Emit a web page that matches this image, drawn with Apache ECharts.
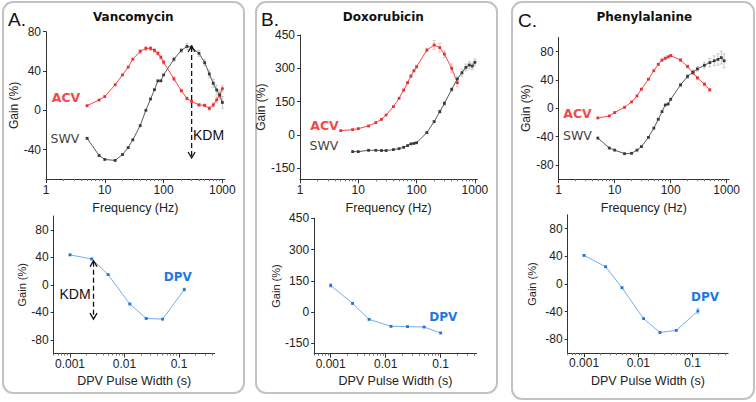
<!DOCTYPE html>
<html><head><meta charset="utf-8">
<script src="https://cdn.jsdelivr.net/npm/echarts@6/dist/echarts.min.js"></script>
<style>html,body{margin:0;padding:0;background:#fff}#c{width:756px;height:402px}</style>
</head><body><div id="c"></div>
<script>
// ---------- data ----------
const freq = [5,8,10,15,20,25,30,40,50,60,70,80,90,100,150,200,250,300,400,500,600,700,800,900,1000];
const freqTo500 = [5,8,10,15,20,25,30,40,50,60,70,80,90,100,150,200,250,300,400,500];
const freqFrom8 = [8,10,15,20,25,30,40,50,60,70,80,90,100,150,200,250,300,400,500,600,700,800,900,1000];
const freqTo900 = [5,8,10,15,20,25,30,40,50,60,70,80,90,100,150,200,250,300,400,500,600,700,800,900];

const vancoACV = [4.7,10.5,14,26,36,44,52,60,63,63,61,58,54,49,32,20,12,9,5.5,5,2,5.5,10.5,15.6,22];
const vancoACVErr = [0,0,0,0,0,0,0,2,2,2,2,2,2,2,2,1.5,1.5,1.5,1.5,1.5,1.5,2,3,3,3];
const vancoSWV = [-28.5,-46,-50,-51,-45,-38,-30,-15.6,0,11.5,21,30,30,36,52,61,65,64,58,48.5,37,27.5,20.7,15.6,8];
const vancoSWVErr = [0,0,0,0,0,0,0,0,0,0,0,0,0,0,2,2,3,2,3,3,4,4,5,5,6];

const doxACV = [19.5,24,28.5,40.5,55.5,70.5,90,127.5,165,202,235,265,289,307,382,405,393,364,300,235];
const doxACVErr = [0,0,0,0,0,0,0,0,0,4,4,5,5,6,8,20,20,15,20,18];
const doxSWV = [-75,-75,-69,-69,-70,-70,-66,-61.5,-55.5,-48,-40,-38,-35,10.5,60,105,142,205,252,280,304,315,310,327];
const doxSWVErr = [0,0,0,0,0,0,0,0,0,0,0,0,0,4,5,6,8,8,12,15,15,15,15,15];

const phenACV = [-13.6,-10.8,-6,1.4,9,17.4,27,41,53,62,68,70.6,72.5,74.4,68,59,50,43,34,26];
const phenACVErr = [0,0,0,0,0,0,0,0,0,1.5,1.5,1.5,1.5,1.5,2,2,2,2,2,2];
const phenSWV = [-42,-56,-59,-64,-63.5,-59,-54,-41,-28,-15.5,-4.7,4.7,6,12.7,33,45,51,55.5,60.7,64.5,67,69,71.5,67];
const phenSWVErr = [0,0,0,0,0,0,0,0,0,0,0,0,0,0,2,3,3,3,4,6,7,8,9,10];

const pulseA = [0.001,0.0025,0.005,0.0125,0.025,0.05,0.125];
const pulseB = [0.001,0.0025,0.005,0.0125,0.025,0.05,0.1];
const pulseC = [0.001,0.0025,0.005,0.0125,0.025,0.05,0.125];
const vancoDPV = [43.5,37.5,14.8,-28,-49,-50,-7];
const vancoDPVErr = [1,1,1,1,1,1,2];
const doxDPV = [127.6,41.5,-35,-68.6,-70,-72,-100.5];
const doxDPVErr = [8,3,3,3,3,3,3];
const phenDPV = [41.4,25,-5.3,-50,-70,-67,-39];
const phenDPVErr = [1,1,1,1,1,1,4];

const freqTicks = [1,10,100,1000];
const freqMinor = [2,3,4,5,6,7,8,9,20,30,40,50,60,70,80,90,200,300,400,500,600,700,800,900];
const pulseTicks = [0.001,0.01,0.1];
const pulseMinor = [0.0005,0.0006,0.0007,0.0008,0.0009,0.002,0.003,0.004,0.005,0.006,0.007,0.008,0.009,0.02,0.03,0.04,0.05,0.06,0.07,0.08,0.09,0.2,0.3,0.4];
const gainTicksSmall = [-80,-40,0,40,80];
const gainTicksA = [-40,0,40,80];
const gainTicksBig = [-150,0,150,300,450];

// ---------- style ----------
const FONT = '"Liberation Sans", Arial, sans-serif';
const VFONT = '"DejaVu Sans", Verdana, sans-serif';
const RED = '#f44848', RED_M = '#e83030', RED_E = '#f7b8b8';
const GRAY = '#5a5a5a', GRAY_M = '#3a3a3a', GRAY_E = '#c8c8c8';
const BLUE = '#74aef0', BLUE_M = '#2474d8', BLUE_E = '#a8c9f2';
const AX = '#333';

const grids = [
  {left:46, top:31.7, width:178.8, height:147.4},
  {left:53.6, top:216, width:161, height:137.5},
  {left:300, top:35, width:177.3, height:144.4},
  {left:314.1, top:218.3, width:162.5, height:135.4},
  {left:558.7, top:37.4, width:170.3, height:141.8},
  {left:567.7, top:214.9, width:160.4, height:138.3}
];
const isTop = [true,false,true,false,true,false];
const yRanges = [[-70,80],[-100,100],[-200,450],[-200,450],[-100,100],[-100,100]];
const yTicks = [gainTicksA,gainTicksSmall,gainTicksBig,gainTicksBig,gainTicksSmall,gainTicksSmall];
const yNameGap = [25,24,23,30,24,30];

const xAxes = [], yAxes = [];
grids.forEach((g,i) => {
  const top = isTop[i];
  xAxes.push({
    type:'log', gridIndex:i, logBase:10, position:'bottom',
    min: top ? 1 : 0.0005, max: top ? 1100 : 0.45,
    name: top ? 'Frequency (Hz)' : 'DPV Pulse Width (s)',
    nameLocation:'middle', nameGap: top ? 22 : 21,
    nameTextStyle:{fontFamily:FONT, fontSize:12.5, color:'#222'},
    axisLine:{show:true, onZero:false, lineStyle:{color:AX, width:1}},
    axisTick:{show:true, length:4, customValues: top ? freqTicks : pulseTicks, lineStyle:{color:AX}},
    axisLabel:{show:true, margin: top ? 5 : 4, fontFamily:FONT, fontSize:12, color:'#222',
      customValues: top ? freqTicks : pulseTicks, formatter: v => String(v)},
    splitLine:{show:false}, minorTick:{show:false}
  });
  yAxes.push({
    type:'value', gridIndex:i, min:yRanges[i][0], max:yRanges[i][1], position:'left',
    name:'Gain (%)', nameLocation:'middle', nameGap:yNameGap[i],
    nameTextStyle:{fontFamily:FONT, fontSize: top ? 12 : 11, color:'#222'},
    axisLine:{show:true, onZero:false, lineStyle:{color:AX, width:1}},
    axisTick:{show:true, length:3, customValues:yTicks[i], lineStyle:{color:AX}},
    axisLabel:{show:true, margin:5, fontFamily:FONT, fontSize:12, color:'#222', customValues:yTicks[i]},
    splitLine:{show:false}
  });
});
// minor tick axes (same scale, only small ticks)
grids.forEach((g,i) => {
  const top = isTop[i];
  xAxes.push({
    type:'log', gridIndex:i, logBase:10, position:'bottom',
    min: top ? 1 : 0.0005, max: top ? 1100 : 0.45,
    axisLine:{show:false, onZero:false}, axisLabel:{show:false}, splitLine:{show:false},
    axisTick:{show:true, length:2, customValues: top ? freqMinor : pulseMinor, lineStyle:{color:'#777'}}
  });
});

function pairs(xs, ys){ return xs.map((x,k)=>[x, ys[k]]); }
function lineSeries(idx, xs, ys, color, mcolor){
  return {type:'line', xAxisIndex:idx, yAxisIndex:idx, data:pairs(xs,ys),
    symbol:'rect', symbolSize:2.8, showSymbol:true,
    lineStyle:{color:color, width:1}, itemStyle:{color:mcolor}, z:5, animation:false};
}
function errSeries(idx, xs, ys, es, color){
  const data = [];
  xs.forEach((x,k)=>{ if (es[k] > 0) data.push([x, ys[k]-es[k], ys[k]+es[k]]); });
  return {type:'custom', xAxisIndex:idx, yAxisIndex:idx, data:data, z:3, animation:false,
    renderItem:(params, api)=>{
      const x = api.value(0);
      const a = api.coord([x, api.value(1)]), b = api.coord([x, api.value(2)]);
      const st = {stroke:color, lineWidth:1};
      return {type:'group', children:[
        {type:'line', shape:{x1:a[0],y1:a[1],x2:b[0],y2:b[1]}, style:st},
        {type:'line', shape:{x1:a[0]-1.5,y1:a[1],x2:a[0]+1.5,y2:a[1]}, style:st},
        {type:'line', shape:{x1:b[0]-1.5,y1:b[1],x2:b[0]+1.5,y2:b[1]}, style:st}
      ]};
    }};
}

const series = [
  lineSeries(0, freq, vancoACV, RED, RED_M),
  lineSeries(0, freq, vancoSWV, GRAY, GRAY_M),
  lineSeries(1, pulseA, vancoDPV, BLUE, BLUE_M),
  lineSeries(2, freqTo500, doxACV, RED, RED_M),
  lineSeries(2, freqFrom8, doxSWV, GRAY, GRAY_M),
  lineSeries(3, pulseB, doxDPV, BLUE, BLUE_M),
  lineSeries(4, freqTo500, phenACV, RED, RED_M),
  lineSeries(4, freqTo900, phenSWV, GRAY, GRAY_M),
  lineSeries(5, pulseC, phenDPV, BLUE, BLUE_M),
  errSeries(0, freq, vancoACV, vancoACVErr, RED_E),
  errSeries(0, freq, vancoSWV, vancoSWVErr, GRAY_E),
  errSeries(1, pulseA, vancoDPV, vancoDPVErr, BLUE_E),
  errSeries(2, freqTo500, doxACV, doxACVErr, RED_E),
  errSeries(2, freqFrom8, doxSWV, doxSWVErr, GRAY_E),
  errSeries(3, pulseB, doxDPV, doxDPVErr, BLUE_E),
  errSeries(4, freqTo500, phenACV, phenACVErr, RED_E),
  errSeries(4, freqTo900, phenSWV, phenSWVErr, GRAY_E),
  errSeries(5, pulseC, phenDPV, phenDPVErr, BLUE_E)
];

const chart = echarts.init(document.getElementById('c'), null, {renderer:'svg', width:756, height:402});
chart.setOption({
  backgroundColor:'#fff', animation:false,
  grid: grids.map(g=>Object.assign({containLabel:false}, g)),
  xAxis: xAxes, yAxis: yAxes, series: series
});

// ---------- annotations ----------
const gfx = [];
function box(x,y,w,h){ gfx.push({type:'rect', z:-10, shape:{x:x,y:y,width:w,height:h,r:10}, style:{fill:'none', stroke:'#c2c2c2', lineWidth:2}}); }
box(3,2,241,391); box(256,2,241,391); box(512,2,242,397);
function txt(s,x,y,font,color,align){ gfx.push({type:'text', x:x, y:y, z:20, style:{text:s, font:font, fill:color, textAlign:align||'center', textVerticalAlign:'middle'}}); }
txt('A.', 8, 19, '19px '+FONT, '#111', 'left');
txt('B.', 261, 19, '19px '+FONT, '#111', 'left');
txt('C.', 518, 20, '19px '+FONT, '#111', 'left');
txt('Vancomycin', 133.3, 17, 'bold 12px '+VFONT, '#111');
txt('Doxorubicin', 383.3, 17, 'bold 12px '+VFONT, '#111');
txt('Phenylalanine', 644.3, 17, 'bold 12px '+VFONT, '#111');
txt('ACV', 66, 97, 'bold 12.5px '+VFONT, RED);
txt('SWV', 65, 138, '12.5px '+VFONT, '#444');
txt('ACV', 324.5, 125.7, 'bold 12.5px '+VFONT, RED);
txt('SWV', 324, 145.7, '12.5px '+VFONT, '#444');
txt('ACV', 577.5, 113.3, 'bold 12.5px '+VFONT, RED);
txt('SWV', 577.5, 135, '12.5px '+VFONT, '#444');
txt('DPV', 177.7, 277.3, 'bold 12px '+VFONT, '#1f78e0');
txt('DPV', 443.3, 317.3, 'bold 12px '+VFONT, '#1f78e0');
txt('DPV', 705, 297.3, 'bold 12px '+VFONT, '#1f78e0');
txt('KDM', 208.5, 135, '14px '+FONT, '#111');
txt('KDM', 75, 294.3, '14px '+FONT, '#111');

function arrow(seriesIndex, xv, y1, y2){
  const p = chart.convertToPixel({seriesIndex:seriesIndex}, [xv, y1]);
  const q = chart.convertToPixel({seriesIndex:seriesIndex}, [xv, y2]);
  const st = {stroke:'#111', lineWidth:1.3, fill:'none'};
  gfx.push({type:'line', z:20, shape:{x1:p[0],y1:p[1]+1,x2:q[0],y2:q[1]-1}, style:Object.assign({lineDash:[5,3]}, st)});
  gfx.push({type:'polyline', z:20, shape:{points:[[p[0]-3.5,p[1]+6],[p[0],p[1]],[p[0]+3.5,p[1]+6]]}, style:st});
  gfx.push({type:'polyline', z:20, shape:{points:[[q[0]-3.5,q[1]-6],[q[0],q[1]],[q[0]+3.5,q[1]-6]]}, style:st});
}
arrow(1, 300, 65.4, -48.5);
arrow(2, 0.0027, 35, -50);

chart.setOption({graphic: gfx});
</script></body></html>
